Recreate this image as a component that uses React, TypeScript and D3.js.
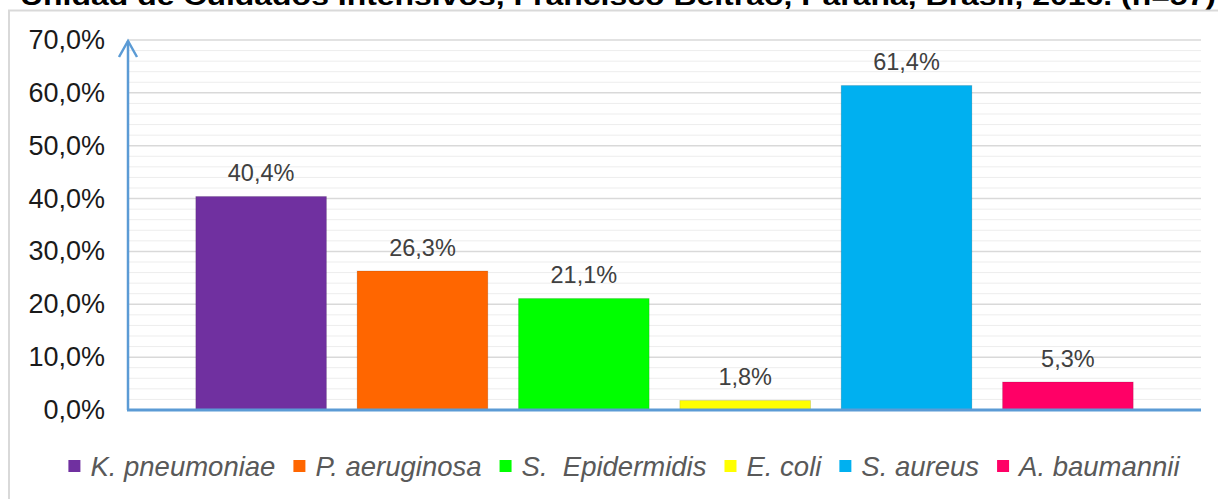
import React from "react";
import * as d3 from "d3";

const categories = ["K. pneumoniae", "P. aeruginosa", "S.  Epidermidis", "E. coli", "S. aureus", "A. baumannii"];
const values = [40.4, 26.3, 21.1, 1.8, 61.4, 5.3];
const colors = ["#7030a0", "#ff6600", "#00ff00", "#ffff00", "#00b0f0", "#ff0066"];
const yTicks = [0, 10, 20, 30, 40, 50, 60, 70];
const titleText = "Unidad de Cuidados Intensivos, Francisco Beltrão, Paraná, Brasil, 2016. (n=57)";

const W = 1218;
const H = 499;
const FONT = "'Liberation Sans', Arial, sans-serif";

const locale = d3.formatLocale({ decimal: ",", thousands: ".", grouping: [3], currency: ["", ""] });
const fmt = locale.format(".1f");

function measure(text: string, font: string): number {
  const c = document.createElement("canvas");
  const ctx = c.getContext("2d");
  if (!ctx) return text.length * 12;
  ctx.font = font;
  return ctx.measureText(text).width;
}

export default function App() {
  const x0 = 128, x1 = 1201, y0 = 410, yTop = 40;
  const x = d3.scaleBand<string>().domain(categories).range([x0, x1]).paddingInner(0.19).paddingOuter(0.42);
  const y = d3.scaleLinear().domain([0, 70]).range([y0, yTop]);
  const minor = d3.range(0, 71, 2).filter((v) => v % 10 !== 0);

  const LFS = 27.5;
  const legendFont = `italic ${LFS}px ${FONT}`;
  const sq = 12, gapSq = 10, gapItem = 18;
  const widths = categories.map((c) => measure(c, legendFont));
  const total = widths.reduce((a, w) => a + sq + gapSq + w, 0) + gapItem * (categories.length - 1);
  let lx = 624 - total / 2;
  const legendItems = categories.map((c, i) => {
    const item = { c, i, x: lx };
    lx += sq + gapSq + widths[i] + gapItem;
    return item;
  });

  return (
    <svg width={W} height={H} style={{ position: "absolute", left: 0, top: 0, background: "#fff" }} fontFamily={FONT}>
      <rect x={0} y={0} width={W} height={H} fill="#fff" />
      <text x={20} y={4.5} fontSize={26} fontWeight="bold" fill="#000" textLength={1196} lengthAdjust="spacingAndGlyphs">
        {titleText}
      </text>
      <rect x={9} y={10.5} width={W + 20} height={H + 20} fill="none" stroke="#d9d9d9" strokeWidth={2} />
      {minor.map((v) => (
        <line key={"m" + v} x1={x0} x2={x1} y1={y(v)} y2={y(v)} stroke="#ededed" strokeWidth={1} />
      ))}
      {yTicks.map((v) => (
        <line key={"g" + v} x1={x0} x2={x1} y1={y(v)} y2={y(v)} stroke="#d9d9d9" strokeWidth={1.5} />
      ))}
      {yTicks.map((v) => (
        <text key={"t" + v} x={105} y={y(v) + 9} textAnchor="end" fontSize={27} fill="#1a1a1a">
          {fmt(v) + "%"}
        </text>
      ))}
      {categories.map((c, i) => (
        <g key={c}>
          <rect x={x(c)} y={y(values[i])} width={x.bandwidth()} height={y0 - y(values[i])} fill={colors[i]} stroke="rgba(0,0,0,0.12)" strokeWidth={1} />
          <text x={(x(c) as number) + x.bandwidth() / 2} y={y(values[i]) - 15} textAnchor="middle" fontSize={23.5} fill="#404040">
            {fmt(values[i]) + "%"}
          </text>
        </g>
      ))}
      <line x1={x0 - 1} x2={x1} y1={y0} y2={y0} stroke="#5b9bd5" strokeWidth={3} />
      <line x1={x0} x2={x0} y1={y0} y2={yTop + 1} stroke="#5b9bd5" strokeWidth={2.5} />
      <polyline points={`${x0 - 9},${yTop + 17} ${x0},${yTop + 1} ${x0 + 9},${yTop + 17}`} fill="none" stroke="#5b9bd5" strokeWidth={2.5} />
      {legendItems.map((it) => (
        <g key={"l" + it.i}>
          <rect x={it.x} y={476 - 16} width={sq} height={sq} fill={colors[it.i]} />
          <text x={it.x + sq + gapSq} y={476} fontSize={LFS} fontStyle="italic" fill="#595959" style={{ whiteSpace: "pre" }}>
            {it.c}
          </text>
        </g>
      ))}
    </svg>
  );
}
